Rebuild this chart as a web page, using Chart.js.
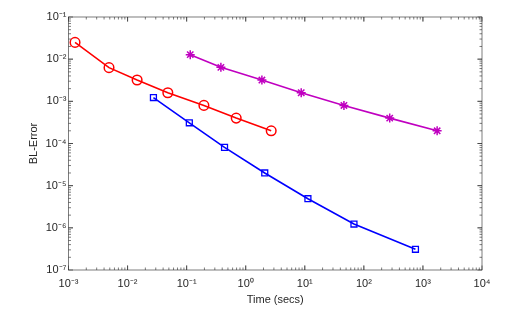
<!DOCTYPE html>
<html><head><meta charset="utf-8">
<script src="https://cdn.jsdelivr.net/npm/chart.js@4/dist/chart.umd.min.js"></script>
<style>html,body{margin:0;padding:0;background:#fff}#wrap{width:516px;height:313px}</style>
</head><body><div id="wrap"><canvas id="c" width="516" height="313"></canvas></div>
<script>
const xTickValues = [1e-3, 1e-2, 1e-1, 1e0, 1e1, 1e2, 1e3, 1e4];
const yTickValues = [1e-7, 1e-6, 1e-5, 1e-4, 1e-3, 1e-2, 1e-1];
const redTime = [0.00129, 0.00485, 0.0145, 0.048, 0.196, 0.69, 2.7];
const redError = [0.025, 0.0063, 0.0032, 0.0016, 0.0008, 0.0004, 0.0002];
const blueTime = [0.0274, 0.111, 0.438, 2.1, 11.3, 68, 747];
const blueError = [0.00123, 0.00031, 0.000081, 0.00002, 0.0000049, 0.00000123, 0.00000031];
const magentaTime = [0.115, 0.38, 1.88, 8.7, 46, 274, 1740];
const magentaError = [0.0128, 0.0064, 0.0032, 0.0016, 0.0008, 0.0004, 0.0002];

const sup = {'-':'⁻','0':'⁰','1':'¹','2':'²','3':'³','4':'⁴','5':'⁵','6':'⁶','7':'⁷','8':'⁸','9':'⁹'};
function fmt(v){ const e = Math.round(Math.log10(v)); return '10' + String(e).split('').map(c=>sup[c]).join(''); }
const pts = (xs, ys) => xs.map((x,i)=>({x:x, y:ys[i]}));
const AX = '#262626';
const FONT = '"Liberation Sans", Arial, sans-serif';

const boxPlugin = {
  id:'box',
  afterDraw(chart){
    const {ctx, chartArea:a, scales:{x, y}} = chart;
    ctx.save();
    ctx.strokeStyle = AX; ctx.lineWidth = 0.6;
    ctx.strokeRect(a.left, a.top, a.right-a.left, a.bottom-a.top);
    ctx.beginPath();
    const maj = 4.5, mn = 2.5;
    for (let d=-3; d<4; d++) for (let m=1; m<=10; m++){
      const v = m*Math.pow(10,d);
      const px = x.getPixelForValue(v); const L = (m===1||m===10)?maj:mn;
      ctx.moveTo(px, a.bottom); ctx.lineTo(px, a.bottom-L);
      ctx.moveTo(px, a.top); ctx.lineTo(px, a.top+L);
    }
    for (let d=-7; d<-1; d++) for (let m=1; m<=10; m++){
      const v = m*Math.pow(10,d);
      const py = y.getPixelForValue(v); const L = (m===1||m===10)?maj:mn;
      ctx.moveTo(a.left, py); ctx.lineTo(a.left+L, py);
      ctx.moveTo(a.right, py); ctx.lineTo(a.right-L, py);
    }
    ctx.stroke();
    ctx.restore();
  }
};

new Chart(document.getElementById('c'), {
  type:'scatter',
  data:{datasets:[
    {label:'red', data:pts(redTime, redError), showLine:true, borderColor:'#ff0000', backgroundColor:'rgba(0,0,0,0)', borderWidth:1.6, pointStyle:'circle', pointRadius:4.8, pointBorderWidth:1.5, pointBorderColor:'#ff0000', pointBackgroundColor:'rgba(0,0,0,0)'},
    {label:'blue', data:pts(blueTime, blueError), showLine:true, borderColor:'#0000ff', backgroundColor:'rgba(0,0,0,0)', borderWidth:1.6, pointStyle:'rect', pointRadius:4.2, pointBorderWidth:1.3, pointBorderColor:'#0000ff', pointBackgroundColor:'rgba(0,0,0,0)'},
    {label:'magenta', data:pts(magentaTime, magentaError), showLine:true, borderColor:'#c000c0', backgroundColor:'rgba(0,0,0,0)', borderWidth:1.6, pointStyle:'star', pointRadius:4.5, pointBorderWidth:1.5, pointBorderColor:'#c000c0', pointBackgroundColor:'rgba(0,0,0,0)'}
  ]},
  options:{
    responsive:false, animation:false, devicePixelRatio:1,
    layout:{padding:{left:0, right:34, top:17, bottom:0}},
    plugins:{legend:{display:false}, tooltip:{enabled:false}},
    scales:{
      x:{type:'logarithmic', min:1e-3, max:1e4,
        afterBuildTicks:s=>{s.ticks = xTickValues.map(v=>({value:v}));},
        afterFit:s=>{s.height = 43;},
        grid:{display:false, drawTicks:false}, border:{display:false},
        ticks:{callback:v=>fmt(v), color:AX, font:{family:FONT, size:11}, padding:7, maxRotation:0, autoSkip:false},
        title:{display:true, text:'Time (secs)', color:AX, font:{family:FONT, size:11}, padding:{top:0,bottom:6}}
      },
      y:{type:'logarithmic', min:1e-7, max:1e-1,
        afterBuildTicks:s=>{s.ticks = yTickValues.map(v=>({value:v}));},
        afterFit:s=>{s.width = 68.5;},
        grid:{display:false, drawTicks:false}, border:{display:false},
        ticks:{callback:v=>fmt(v), color:AX, font:{family:FONT, size:11}, padding:2, autoSkip:false},
        title:{display:true, text:'BL-Error', color:AX, font:{family:FONT, size:11}, padding:{top:27,bottom:0}}
      }
    }
  },
  plugins:[boxPlugin]
});
</script></body></html>
